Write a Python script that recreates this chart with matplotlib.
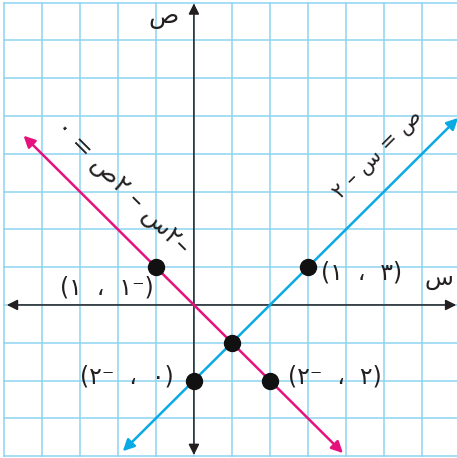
import matplotlib.pyplot as plt

# حدود الشبكة
grid_x = list(range(-5, 8))
grid_y = list(range(-4, 9))

# المستقيمان (نقاط البداية والنهاية كما تظهر في الرسم)
blue_x = [-1.87, 6.95]
blue_y = [-3.87, 4.95]
pink_x = [-4.48, 3.92]
pink_y = [4.48, -3.92]

# النقاط المعلمة
pts_x = [-1, 0, 1, 2, 3]
pts_y = [1, -2, -1, -2, 1]

# تسميات النقاط
labels = ['(١  ،  ١⁻)', '(٢⁻  ،  ٠)', '(٢⁻  ،  ٢)', '(١  ،  ٣)']
label_x = [-2.29, -1.76, 3.71, 4.4]
label_y = [0.45, -1.9, -1.9, 0.85]

blue = '#0AAAE4'
pink = '#E5127D'
grid_col = '#8ED4F1'
ink = '#231F20'

fig = plt.figure(figsize=(4.57, 4.58), dpi=100)
ax = fig.add_axes([0, 0, 1, 1])
ax.set_xlim(-5.1, 6.92)
ax.set_ylim(-4.05, 8.07)
ax.axis('off')

# الشبكة
for gx in grid_x:
    ax.plot([gx, gx], [grid_y[0], grid_y[-1]], color=grid_col, lw=1.1, zorder=1)
for gy in grid_y:
    ax.plot([grid_x[0], grid_x[-1]], [gy, gy], color=grid_col, lw=1.1, zorder=1)

# المحوران
axis_style = dict(arrowstyle='<|-|>', color=ink, lw=1.1, mutation_scale=16, shrinkA=0, shrinkB=0)
ax.annotate('', xy=(6.9, 0), xytext=(-4.92, 0), arrowprops=axis_style,
            annotation_clip=False, zorder=3)
ax.annotate('', xy=(0, 7.98), xytext=(0, -3.97), arrowprops=axis_style,
            annotation_clip=False, zorder=3)

# المستقيمان
ax.annotate('', xy=(blue_x[1], blue_y[1]), xytext=(blue_x[0], blue_y[0]),
            arrowprops=dict(arrowstyle='<|-|>', color=blue, lw=1.8, mutation_scale=17,
                            shrinkA=0, shrinkB=0), annotation_clip=False, zorder=4)
ax.annotate('', xy=(pink_x[1], pink_y[1]), xytext=(pink_x[0], pink_y[0]),
            arrowprops=dict(arrowstyle='<|-|>', color=pink, lw=1.8, mutation_scale=17,
                            shrinkA=0, shrinkB=0), annotation_clip=False, zorder=4)

ax.plot(pts_x, pts_y, 'o', color='#111111', markersize=11.5, zorder=6)

for t, lx, ly in zip(labels, label_x, label_y):
    ax.text(lx, ly, t, fontsize=17, color=ink, ha='center', va='center', zorder=7)

# تسميات المحاور
ax.text(-0.79, 7.62, 'ص', fontsize=18, color=ink, ha='center', va='center')
ax.text(6.45, 0.71, 'س', fontsize=17, color=ink, ha='center', va='center')

# المعادلات
ax.text(4.84, 3.97, '٢ – س = ص', fontsize=15, color=ink, rotation=45,
        rotation_mode='anchor', ha='center', va='center')
ax.text(-1.89, 3.1, '٠ = ص٢ – س٢–', fontsize=18, color=ink, rotation=-45,
        rotation_mode='anchor', ha='center', va='center')

plt.savefig('out.png', dpi=100)
